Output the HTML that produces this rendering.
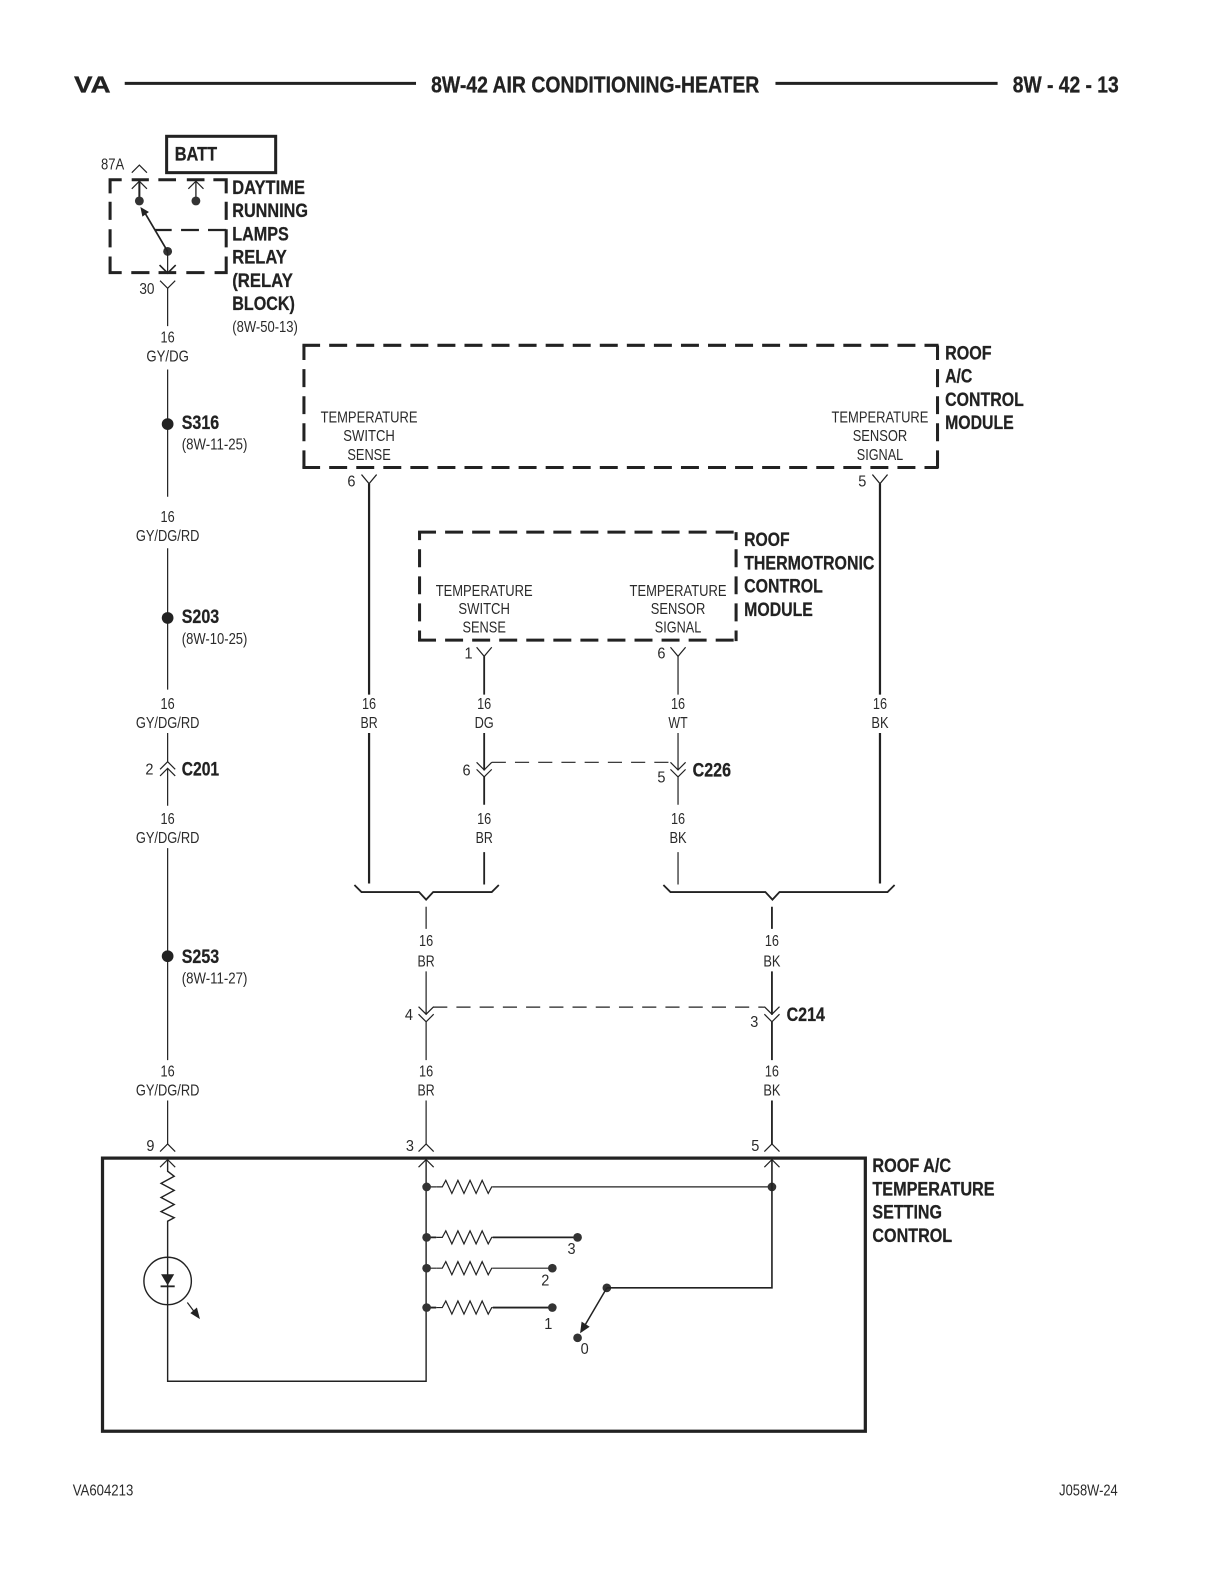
<!DOCTYPE html>
<html><head><meta charset="utf-8"><style>
html,body{margin:0;padding:0;background:#fff}
svg{display:block}
text{font-family:"Liberation Sans",sans-serif;fill:#2a2a2a}
.s{font-size:15.5px;text-anchor:middle}
.l{font-size:15.5px}
.b{font-size:19px;font-weight:bold;fill:#222;stroke:#222;stroke-width:.25}
.w{fill:none;stroke:#222;stroke-width:1.2}
.t{fill:none;stroke:#222;stroke-width:2.2}
.d{fill:none;stroke:#222;stroke-width:3;stroke-dasharray:17.8 9}
.n{fill:none;stroke:#222;stroke-width:1.2;stroke-dasharray:14 9}
.c{fill:#333}
</style></head><body>
<svg width="1224" height="1584" viewBox="0 0 1212.2 1568.8" xmlns="http://www.w3.org/2000/svg">
<defs>
<path id="r" class="w" d="M0,0 H6 l3.5,-6.5 l6,13 l6,-13 l6,13 l6,-13 l6,13 l6,-13 l6,13 l3.5,-6.5 H56"/>
<path id="u" class="w" d="M-7.5,7.5 L0,0 L7.5,7.5"/>
<path id="v" class="w" d="M-7.5,-7.5 L0,0 L7.5,-7.5"/>
<path id="y" class="w" d="M-7.5,-9 L0,0 L7.5,-9"/>
</defs>
<!-- header -->
<text x="73.3" y="91.8" style="font-size:23px;font-weight:bold;stroke:#222;stroke-width:.3;fill:#222" textLength="36.3" lengthAdjust="spacingAndGlyphs">VA</text>
<path d="M123.5,82.6 H412 M768,82.6 H988" stroke="#222" stroke-width="3" fill="none"/>
<text x="427" y="91.8" style="font-size:22.5px;font-weight:bold;stroke:#222;stroke-width:.3;fill:#222" textLength="325" lengthAdjust="spacingAndGlyphs">8W-42 AIR CONDITIONING-HEATER</text>
<text x="1003" y="91.8" style="font-size:22.5px;font-weight:bold;stroke:#222;stroke-width:.3;fill:#222" textLength="105" lengthAdjust="spacingAndGlyphs">8W - 42 - 13</text>
<!-- batt -->
<rect x="165" y="135" width="108" height="36" fill="none" stroke="#222" stroke-width="3"/>
<text x="173" y="159" class="b" textLength="42" lengthAdjust="spacingAndGlyphs">BATT</text>
<text x="100" y="168" class="l" textLength="23" lengthAdjust="spacingAndGlyphs">87A</text>
<!-- relay -->
<path d="M120.5,178 H109 V191.5 M130.4,178 H147.4 M156.8,178 H174.3 M185,178 H202.5 M211.3,178 H224 V191.5 M109,199.8 V217.8 M109,227 V245 M109,254 V270 H120.5 M130,270 H148 M157,270 H174.5 M184.5,270 H202.5 M212.5,270 H224 V254 M224,245 V227 M224,217.8 V199.8" fill="none" stroke="#222" stroke-width="3"/>
<path d="M153,227.8 H170 M179.3,227.8 H197 M206,227.8 H224" fill="none" stroke="#222" stroke-width="2.2"/>
<use href="#u" x="138" y="163.5"/>
<use href="#u" x="138" y="179.5"/>
<use href="#u" x="194" y="179.5"/>
<path d="M138,179 V199" class="t" style="stroke-width:2"/>
<path d="M194,179 V199" class="t" style="stroke-width:1.3"/>
<circle cx="138" cy="199" r="4.4" class="c"/><circle cx="194" cy="199" r="4.4" class="c"/>
<circle cx="166" cy="249" r="4.4" class="c"/>
<path d="M166,249 L143,210" class="t" style="stroke-width:1.7"/>
<path d="M139,205 L147.5,210 L141,214.5 Z" fill="#222"/>
<path d="M166,249 V270" class="w"/>
<path d="M158,262.5 L166,270.5 L174,262.5" class="t" style="stroke-width:1.6"/>
<use href="#v" x="166" y="285.5"/>
<path d="M166,285 V323" class="w"/>
<text x="138" y="291" class="l" textLength="15" lengthAdjust="spacingAndGlyphs">30</text>
<text x="230" y="192" class="b" textLength="72" lengthAdjust="spacingAndGlyphs">DAYTIME</text>
<text x="230" y="215" class="b" textLength="75" lengthAdjust="spacingAndGlyphs">RUNNING</text>
<text x="230" y="238" class="b" textLength="56" lengthAdjust="spacingAndGlyphs">LAMPS</text>
<text x="230" y="261" class="b" textLength="54" lengthAdjust="spacingAndGlyphs">RELAY</text>
<text x="230" y="284" class="b" textLength="60" lengthAdjust="spacingAndGlyphs">(RELAY</text>
<text x="230" y="307" class="b" textLength="62" lengthAdjust="spacingAndGlyphs">BLOCK)</text>
<text x="230" y="329" class="l" textLength="65" lengthAdjust="spacingAndGlyphs">(8W-50-13)</text>
<!-- left column -->
<text x="166" y="339" class="s" textLength="14" lengthAdjust="spacingAndGlyphs">16</text>
<text x="166" y="358" class="s" textLength="42" lengthAdjust="spacingAndGlyphs">GY/DG</text>
<path d="M166,366 V492 M166,543 V683 M166,726 V754.4 M166,761 V798 M166,840 V1050 M166,1090 V1133" class="w"/>
<circle cx="166" cy="420" r="5.8" fill="#222"/>
<text x="180" y="425" class="b" textLength="37" lengthAdjust="spacingAndGlyphs">S316</text>
<text x="180" y="445" class="l" textLength="65" lengthAdjust="spacingAndGlyphs">(8W-11-25)</text>
<text x="166" y="517" class="s" textLength="14" lengthAdjust="spacingAndGlyphs">16</text>
<text x="166" y="536" class="s" textLength="63" lengthAdjust="spacingAndGlyphs">GY/DG/RD</text>
<circle cx="166" cy="612" r="5.8" fill="#222"/>
<text x="180" y="617" class="b" textLength="37" lengthAdjust="spacingAndGlyphs">S203</text>
<text x="180" y="638" class="l" textLength="65" lengthAdjust="spacingAndGlyphs">(8W-10-25)</text>
<text x="166" y="702" class="s" textLength="14" lengthAdjust="spacingAndGlyphs">16</text>
<text x="166" y="721" class="s" textLength="63" lengthAdjust="spacingAndGlyphs">GY/DG/RD</text>
<use href="#u" x="166" y="754.4"/><use href="#u" x="166" y="761"/>
<text x="144" y="767" class="l" textLength="8" lengthAdjust="spacingAndGlyphs">2</text>
<text x="180" y="768" class="b" textLength="37" lengthAdjust="spacingAndGlyphs">C201</text>
<text x="166" y="816" class="s" textLength="14" lengthAdjust="spacingAndGlyphs">16</text>
<text x="166" y="835" class="s" textLength="63" lengthAdjust="spacingAndGlyphs">GY/DG/RD</text>
<circle cx="166" cy="947" r="5.8" fill="#222"/>
<text x="180" y="954" class="b" textLength="37" lengthAdjust="spacingAndGlyphs">S253</text>
<text x="180" y="974" class="l" textLength="65" lengthAdjust="spacingAndGlyphs">(8W-11-27)</text>
<text x="166" y="1066" class="s" textLength="14" lengthAdjust="spacingAndGlyphs">16</text>
<text x="166" y="1085" class="s" textLength="63" lengthAdjust="spacingAndGlyphs">GY/DG/RD</text>
<!-- roof module -->
<path d="M299.5,342 H929.5 M299.5,463 H929.5" class="d" stroke-dashoffset="0" style="stroke-dashoffset:0.3"/>
<path d="M301,342 V463.5 M928.5,342 V463.5" class="d" style="stroke-dashoffset:3.2"/>
<text x="936" y="356" class="b" textLength="46" lengthAdjust="spacingAndGlyphs">ROOF</text>
<text x="936" y="379" class="b" textLength="27" lengthAdjust="spacingAndGlyphs">A/C</text>
<text x="936" y="402" class="b" textLength="78" lengthAdjust="spacingAndGlyphs">CONTROL</text>
<text x="936" y="425" class="b" textLength="68" lengthAdjust="spacingAndGlyphs">MODULE</text>
<text x="365.5" y="418.5" class="s" textLength="96" lengthAdjust="spacingAndGlyphs">TEMPERATURE</text>
<text x="365.5" y="437" class="s" textLength="51" lengthAdjust="spacingAndGlyphs">SWITCH</text>
<text x="365.5" y="455.5" class="s" textLength="43" lengthAdjust="spacingAndGlyphs">SENSE</text>
<text x="871.5" y="418.5" class="s" textLength="96" lengthAdjust="spacingAndGlyphs">TEMPERATURE</text>
<text x="871.5" y="437" class="s" textLength="54" lengthAdjust="spacingAndGlyphs">SENSOR</text>
<text x="871.5" y="455.5" class="s" textLength="46" lengthAdjust="spacingAndGlyphs">SIGNAL</text>
<use href="#y" x="365.5" y="479"/><use href="#y" x="871.5" y="479"/>
<text x="344" y="482" class="l" textLength="8" lengthAdjust="spacingAndGlyphs">6</text>
<text x="850" y="482" class="l" textLength="8" lengthAdjust="spacingAndGlyphs">5</text>
<path d="M365.5,479 V688 M365.5,726 V875 M871.5,479 V688 M871.5,726 V875" class="t"/>
<!-- thermotronic -->
<path d="M414,527 H730 M414,634 H730" class="d"/>
<path d="M415.5,527 V635 M729,527 V635" class="d" style="stroke-dashoffset:9.8"/>
<text x="737" y="541" class="b" textLength="45" lengthAdjust="spacingAndGlyphs">ROOF</text>
<text x="737" y="564" class="b" textLength="129" lengthAdjust="spacingAndGlyphs">THERMOTRONIC</text>
<text x="737" y="587" class="b" textLength="78" lengthAdjust="spacingAndGlyphs">CONTROL</text>
<text x="737" y="610" class="b" textLength="68" lengthAdjust="spacingAndGlyphs">MODULE</text>
<text x="479.5" y="590.5" class="s" textLength="96" lengthAdjust="spacingAndGlyphs">TEMPERATURE</text>
<text x="479.5" y="608" class="s" textLength="51" lengthAdjust="spacingAndGlyphs">SWITCH</text>
<text x="479.5" y="626.5" class="s" textLength="43" lengthAdjust="spacingAndGlyphs">SENSE</text>
<text x="671.5" y="590.5" class="s" textLength="96" lengthAdjust="spacingAndGlyphs">TEMPERATURE</text>
<text x="671.5" y="608" class="s" textLength="54" lengthAdjust="spacingAndGlyphs">SENSOR</text>
<text x="671.5" y="626.5" class="s" textLength="46" lengthAdjust="spacingAndGlyphs">SIGNAL</text>
<use href="#y" x="479.5" y="650"/><use href="#y" x="671.5" y="650"/>
<text x="460" y="652" class="l" textLength="8" lengthAdjust="spacingAndGlyphs">1</text>
<text x="651" y="652" class="l" textLength="8" lengthAdjust="spacingAndGlyphs">6</text>
<path d="M479.5,650 V688 M479.5,726 V763 M479.5,769 V797 M479.5,844 V876" class="t" style="stroke-width:1.8"/>
<path d="M671.5,650 V688 M671.5,726 V763 M671.5,769 V797 M671.5,844 V876" class="w"/>
<!-- wire labels mid -->
<text x="365.5" y="702" class="s" textLength="14" lengthAdjust="spacingAndGlyphs">16</text>
<text x="365.5" y="721" class="s" textLength="17" lengthAdjust="spacingAndGlyphs">BR</text>
<text x="479.5" y="702" class="s" textLength="14" lengthAdjust="spacingAndGlyphs">16</text>
<text x="479.5" y="721" class="s" textLength="19" lengthAdjust="spacingAndGlyphs">DG</text>
<text x="671.5" y="702" class="s" textLength="14" lengthAdjust="spacingAndGlyphs">16</text>
<text x="671.5" y="721" class="s" textLength="19" lengthAdjust="spacingAndGlyphs">WT</text>
<text x="871.5" y="702" class="s" textLength="14" lengthAdjust="spacingAndGlyphs">16</text>
<text x="871.5" y="721" class="s" textLength="17" lengthAdjust="spacingAndGlyphs">BK</text>
<!-- C226 -->
<use href="#v" x="479.5" y="762.5"/><use href="#v" x="479.5" y="769.5"/>
<use href="#v" x="671.5" y="762.5"/><use href="#v" x="671.5" y="769.5"/>
<path d="M487,755 H664" class="n"/>
<text x="458" y="768" class="l" textLength="8" lengthAdjust="spacingAndGlyphs">6</text>
<text x="651" y="775" class="l" textLength="8" lengthAdjust="spacingAndGlyphs">5</text>
<text x="686" y="769" class="b" textLength="38" lengthAdjust="spacingAndGlyphs">C226</text>
<text x="479.5" y="816" class="s" textLength="14" lengthAdjust="spacingAndGlyphs">16</text>
<text x="479.5" y="835" class="s" textLength="17" lengthAdjust="spacingAndGlyphs">BR</text>
<text x="671.5" y="816" class="s" textLength="14" lengthAdjust="spacingAndGlyphs">16</text>
<text x="671.5" y="835" class="s" textLength="17" lengthAdjust="spacingAndGlyphs">BK</text>
<!-- brackets -->
<path d="M351,876.5 L358,883.5 H415 L422,891 L429,883.5 H487 L494,876.5" class="t" style="stroke-width:1.8"/>
<path d="M657,876.5 L664,883.5 H758 L765,891 L772,883.5 H879 L886,876.5" class="t" style="stroke-width:1.8"/>
<!-- lower wires -->
<path d="M422,898 V920 M422,962 V1005 M422,1012 V1050 M422,1090 V1133" class="w"/>
<path d="M764.5,898 V920 M764.5,962 V1005 M764.5,1012 V1050 M764.5,1090 V1133" class="t" style="stroke-width:1.8"/>
<text x="422" y="937" class="s" textLength="14" lengthAdjust="spacingAndGlyphs">16</text>
<text x="422" y="957" class="s" textLength="17" lengthAdjust="spacingAndGlyphs">BR</text>
<text x="764.5" y="937" class="s" textLength="14" lengthAdjust="spacingAndGlyphs">16</text>
<text x="764.5" y="957" class="s" textLength="17" lengthAdjust="spacingAndGlyphs">BK</text>
<use href="#v" x="422" y="1004.5"/><use href="#v" x="422" y="1012"/>
<use href="#v" x="764.5" y="1004.5"/><use href="#v" x="764.5" y="1012"/>
<path d="M429,997.5 H757" class="n"/>
<text x="401" y="1010" class="l" textLength="8" lengthAdjust="spacingAndGlyphs">4</text>
<text x="743" y="1017" class="l" textLength="8" lengthAdjust="spacingAndGlyphs">3</text>
<text x="779" y="1011" class="b" textLength="38" lengthAdjust="spacingAndGlyphs">C214</text>
<text x="422" y="1066" class="s" textLength="14" lengthAdjust="spacingAndGlyphs">16</text>
<text x="422" y="1085" class="s" textLength="17" lengthAdjust="spacingAndGlyphs">BR</text>
<text x="764.5" y="1066" class="s" textLength="14" lengthAdjust="spacingAndGlyphs">16</text>
<text x="764.5" y="1085" class="s" textLength="17" lengthAdjust="spacingAndGlyphs">BK</text>
<!-- bottom connectors -->
<use href="#u" x="166" y="1133"/><use href="#u" x="422" y="1133"/><use href="#u" x="764.5" y="1133"/>
<use href="#u" x="166" y="1148.5"/><use href="#u" x="422" y="1148.5"/><use href="#u" x="764.5" y="1148.5"/>
<text x="145" y="1140" class="l" textLength="8" lengthAdjust="spacingAndGlyphs">9</text>
<text x="402" y="1140" class="l" textLength="8" lengthAdjust="spacingAndGlyphs">3</text>
<text x="744" y="1140" class="l" textLength="8" lengthAdjust="spacingAndGlyphs">5</text>
<!-- big box -->
<rect x="101.5" y="1147" width="755.5" height="270.5" fill="none" stroke="#222" stroke-width="3.2"/>
<text x="864" y="1161" class="b" textLength="78" lengthAdjust="spacingAndGlyphs">ROOF A/C</text>
<text x="864" y="1184" class="b" textLength="121" lengthAdjust="spacingAndGlyphs">TEMPERATURE</text>
<text x="864" y="1207" class="b" textLength="69" lengthAdjust="spacingAndGlyphs">SETTING</text>
<text x="864" y="1230" class="b" textLength="79" lengthAdjust="spacingAndGlyphs">CONTROL</text>
<!-- LED branch -->
<path d="M166,1148 V1160 L172.5,1165 L159.5,1172 L172.5,1179 L159.5,1186 L172.5,1193 L159.5,1200 L172.5,1206 L166,1209.5 V1368 H422 V1148" class="w" style="stroke-width:1.4"/>
<circle cx="166" cy="1268.7" r="23.5" fill="none" stroke="#222" stroke-width="1.4"/>
<path d="M159.5,1262 H172.5 L166,1273 Z" fill="#222"/>
<path d="M159,1274 H173" class="t" style="stroke-width:1.8"/>
<path d="M185.5,1290 L193,1300" class="w"/>
<path d="M198,1306.5 L188.5,1300.5 L195,1295 Z" fill="#222"/>
<!-- resistors -->
<path d="M422,1175.5 H432" class="w"/><use href="#r" x="432" y="1175.5"/>
<path d="M488,1175.5 H764.5" class="w"/>
<use href="#r" x="432" y="1225.5"/><path d="M422,1225.5 H432 M488,1225.5 H572" class="t" style="stroke-width:1.8"/>
<use href="#r" x="432" y="1256"/><path d="M422,1256 H432 M488,1256 H547" class="w"/>
<use href="#r" x="432" y="1295"/><path d="M422,1295 H432 M488,1295 H547" class="t" style="stroke-width:1.8"/>
<g class="c">
<circle cx="422.5" cy="1175.5" r="4.3"/><circle cx="764.5" cy="1175.5" r="4.3"/>
<circle cx="422.5" cy="1225.5" r="4.3"/><circle cx="572" cy="1225.5" r="4.3"/>
<circle cx="422.5" cy="1256" r="4.3"/><circle cx="547" cy="1256" r="4.3"/>
<circle cx="422.5" cy="1295" r="4.3"/><circle cx="547" cy="1295" r="4.3"/>
<circle cx="601" cy="1275.5" r="4.3"/><circle cx="572" cy="1325" r="4.3"/>
</g>
<path d="M764.5,1148 V1275.5 H601" class="w" style="stroke-width:1.6"/>
<path d="M601,1275.5 L579,1313" class="t" style="stroke-width:1.5"/>
<path d="M574.5,1320.5 L576,1309 L584,1314 Z" fill="#222"/>
<text x="566" y="1242" class="s" textLength="8" lengthAdjust="spacingAndGlyphs">3</text>
<text x="540" y="1273" class="s" textLength="8" lengthAdjust="spacingAndGlyphs">2</text>
<text x="543" y="1316" class="s" textLength="8" lengthAdjust="spacingAndGlyphs">1</text>
<text x="579" y="1341" class="s" textLength="8" lengthAdjust="spacingAndGlyphs">0</text>
<!-- footer -->
<text x="72" y="1481" class="l" textLength="60" lengthAdjust="spacingAndGlyphs">VA604213</text>
<text x="1049" y="1481" class="l" textLength="58" lengthAdjust="spacingAndGlyphs">J058W-24</text>
</svg>
</body></html>
